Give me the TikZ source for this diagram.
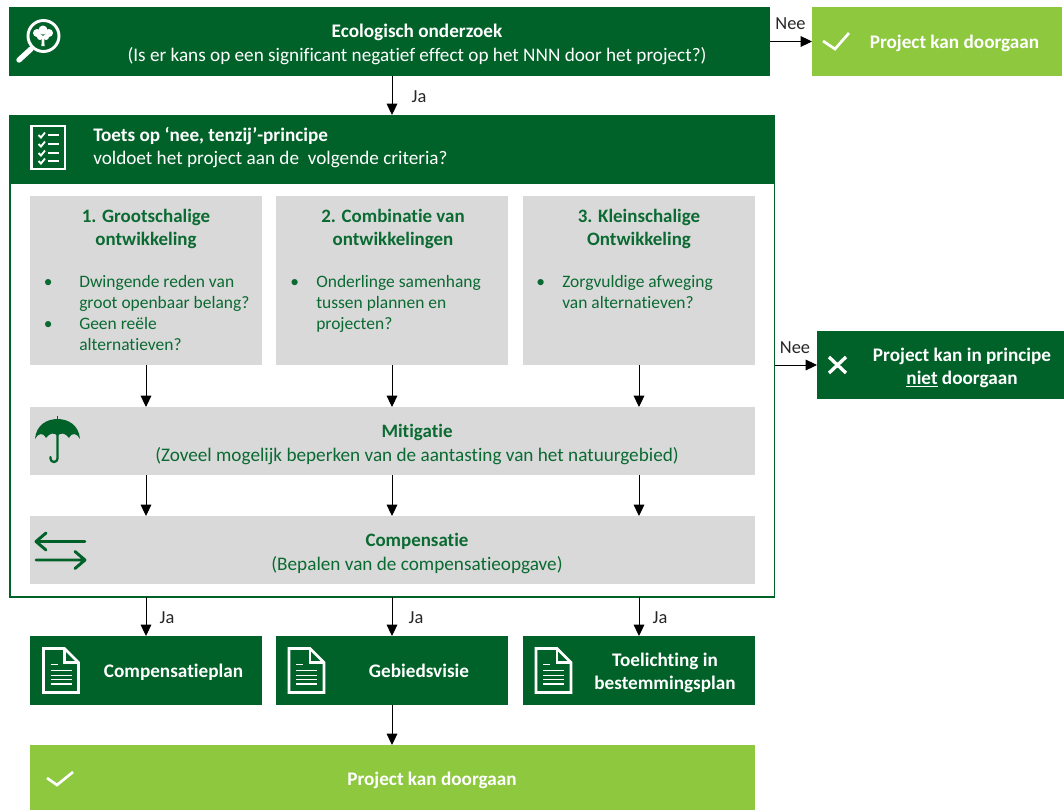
\documentclass[tikz,border=0pt]{standalone}
\usepackage{fontspec}
\setmainfont{Carlito}[Ligatures=CommonOff]
\usetikzlibrary{arrows.meta,fit}
\definecolor{dgreen}{HTML}{006229}
\definecolor{lgreen}{HTML}{8DC83F}
\definecolor{lgrey}{HTML}{D9D9D9}
\definecolor{tgreen}{HTML}{0A6A32}
\tikzset{
  x=0.75pt,y=-0.75pt,
  dbox/.style={fill=dgreen,draw=none,inner sep=0pt,outer sep=0pt},
  lbox/.style={fill=lgreen,draw=none,inner sep=0pt,outer sep=0pt},
  gbox/.style={fill=lgrey,draw=none,inner sep=0pt,outer sep=0pt},
  framebox/.style={draw=dgreen,line width=1.3pt,inner sep=0pt,outer sep=0pt},
  wtxt/.style={text=white,font=\fontsize{14.4}{17.25}\selectfont,inner sep=0pt,anchor=base,yshift=-0.9pt},
  wbold/.style={wtxt,font=\fontsize{14.4}{17.25}\selectfont\bfseries},
  gtxt/.style={text=tgreen,font=\fontsize{14.4}{17.25}\selectfont,inner sep=0pt,anchor=base,yshift=-0.9pt},
  gbold/.style={gtxt,font=\fontsize{14.2}{17.25}\selectfont\bfseries},
  bult/.style={text=tgreen,font=\fontsize{13.1}{15}\selectfont,inner sep=0pt,anchor=base west,yshift=-0.6pt},
  lab/.style={text=black!85,font=\fontsize{13.8}{15}\selectfont,inner sep=0pt,anchor=base,yshift=-0.75pt},
  arr/.style={draw=black,line width=0.75pt,-{Triangle[length=8.5pt,width=8pt]},shorten >=0pt},
  iconw/.style={draw=white,line width=1.9pt},
  iconl/.style={draw=white,line width=1.4pt},
  icong/.style={draw=dgreen,line width=2.2pt,line cap=round,line join=round},
  docicon/.pic={
    \draw[iconw,line join=miter] (0,0) -- (21,0) -- (35,14) -- (35,44) -- (0,44) -- cycle;
    \draw[iconw] (21,0) -- (21,14) -- (35,14);
    \draw[iconl] (7,16) -- (14,16);
    \foreach \yy in {22,27,31,35.5}{\draw[iconl] (7,\yy) -- (28,\yy);}
  },
}
\begin{document}
\begin{tikzpicture}
\useasboundingbox (0,0) rectangle (1064,810);

% boxes
\node[framebox,fit={(10,116)(774.5,597)}] (frame) {};
\node[dbox,fit={(9,7)(770,76)}] (eco) {};
\node[lbox,fit={(812,7)(1062,76)}] (ok1) {};
\node[dbox,fit={(9,115)(775,184)}] (toets) {};
\node[gbox,fit={(30,196)(262,365)}] (g1) {};
\node[gbox,fit={(276,196)(508,365)}] (g2) {};
\node[gbox,fit={(523,196)(755,365)}] (g3) {};
\node[gbox,fit={(30,407)(755,475)}] (mit) {};
\node[gbox,fit={(30,516)(755,584)}] (comp) {};
\node[dbox,fit={(817,331)(1064,399)}] (nee) {};
\node[dbox,fit={(30,636)(262,705)}] (d1) {};
\node[dbox,fit={(276,636)(508,705)}] (d2) {};
\node[dbox,fit={(523,636)(755,705)}] (d3) {};
\node[lbox,fit={(30,745)(755,810)}] (end) {};

% texts
\node[wbold] (t1) at (417,36.5) {Ecologisch onderzoek};
\node[wtxt] (t2) at (417,60) {(Is er kans op een significant negatief effect op het NNN door het project?)};
\node[wbold] (t3) at (954.5,47.5) {Project kan doorgaan};
\node[wbold,anchor=base west] (t4) at (93,140.5) {Toets op ‘nee, tenzij’-principe};
\node[wtxt,anchor=base west] (t5) at (93,163.5) {voldoet het project aan de\ \ volgende criteria?};
\node[gbold] (h1a) at (146,221.5) {1. Grootschalige};
\node[gbold] (h1b) at (146,244.5) {ontwikkeling};
\node[gbold] (h2a) at (393,221.5) {2. Combinatie van};
\node[gbold] (h2b) at (393,244.5) {ontwikkelingen};
\node[gbold] (h3a) at (639,221.5) {3. Kleinschalige};
\node[gbold] (h3b) at (639,244.5) {Ontwikkeling};

\node[bult] at (43.5,286.5) {•};
\node[bult] at (79,286.5) {Dwingende reden van};
\node[bult] at (79,307.5) {groot openbaar belang?};
\node[bult] at (43.5,328.5) {•};
\node[bult] at (79,328.5) {Geen reële};
\node[bult] at (79,349.5) {alternatieven?};
\node[bult] at (290,286.5) {•};
\node[bult] at (316,286.5) {Onderlinge samenhang};
\node[bult] at (316,307.5) {tussen plannen en};
\node[bult] at (316,328.5) {projecten?};
\node[bult] at (536,286.5) {•};
\node[bult] at (562,286.5) {Zorgvuldige afweging};
\node[bult] at (562,307.5) {van alternatieven?};

\node[gbold] (m1) at (417,436.5) {Mitigatie};
\node[gtxt] (m2) at (417,460) {(Zoveel mogelijk beperken van de aantasting van het natuurgebied)};
\node[gbold] (c1) at (417,545.5) {Compensatie};
\node[gtxt] (c2) at (417,569) {(Bepalen van de compensatieopgave)};
\node[wbold] (n1) at (962,360.5) {Project kan in principe};
\node[wbold] (n2) at (962,383.5) {\underline{niet} doorgaan};
\node[wbold] (e1) at (173.5,676.5) {Compensatieplan};
\node[wbold] (e2) at (419,676.5) {Gebiedsvisie};
\node[wbold] (e3a) at (665,665.5) {Toelichting in};
\node[wbold] (e3b) at (665,688.5) {bestemmingsplan};
\node[wbold] (e4) at (432,784.5) {Project kan doorgaan};

% connectors
\draw[arr] (eco.south -| g2) -- (toets.north -| g2);
\draw[arr] (eco.east |- ok1) -- (ok1.west);
\draw[arr] (frame.east |- nee) -- (nee.west);
\foreach \g/\d in {g1/d1,g2/d2,g3/d3}{
  \draw[arr] (\g.south) -- (mit.north -| \g);
  \draw[arr] (mit.south -| \g) -- (comp.north -| \g);
  \draw[arr] (frame.south -| \g) -- (\d.north);
}
\draw[arr] (d2.south) -- (end.north -| d2);

% connector labels
\node[lab] (ja0) at (419,101.5) {Ja};
\node[lab] (ne1) at (790.5,28.5) {Nee};
\node[lab] (ne2) at (795,352.5) {Nee};
\node[lab] (ja1) at (167,622.5) {Ja};
\node[lab] (ja2) at (416,622.5) {Ja};
\node[lab] (ja3) at (660,622.5) {Ja};

% magnifier icon
\draw[white,line width=2.2pt] (43.5,36) circle (15.5);
\draw[white,line width=4pt,line cap=round] (31,49) -- (19,60);
\fill[white] (43,30) circle (4.5) (37,33) circle (4) (49,33) circle (4) (40,37) circle (3) (46,37) circle (3);
\fill[white] (42,36) -- (44,36) -- (44.6,46) -- (41.4,46) -- cycle;

% checklist icon
\draw[iconw,line width=1.9pt] (31.5,126) rectangle (65,169);
\foreach \yy in {135,144,153,161}{
  \draw[white,line width=1.4pt] (38.5,\yy) -- (41,\yy+2.5) -- (45,\yy-2.5);
  \draw[white,line width=1.4pt] (48,\yy) -- (59,\yy);
}

% umbrella icon
\fill[dgreen] (35,439) .. controls (36,425) and (47,419) .. (57.5,419)
  .. controls (68,419) and (79,425) .. (80,439)
  .. controls (77,433) and (72,432) .. (69,438)
  .. controls (66,433) and (60,432) .. (57.5,436)
  .. controls (55,432) and (49,433) .. (46,438)
  .. controls (43,432) and (38,433) .. (35,439) -- cycle;
\draw[dgreen,line width=0.9pt] (57.5,416) -- (57.5,419);
\draw[dgreen,line width=1.7pt,line cap=round] (57.5,430) -- (57.5,458.5) arc[start angle=0,end angle=180,radius=3.5] -- (50.5,457);

% exchange arrows icon
\draw[icong] (85,541.5) -- (36,541.5) (46,533) -- (36,541.5) -- (46,550);
\draw[icong] (36,560) -- (85,560) (75,551.5) -- (85,560) -- (75,568.5);

% check and cross icons
\draw[white,line width=2pt] (823,41) -- (835,49) -- (849,33);
\draw[white,line width=2pt] (47,778) -- (57,785) -- (73,772);
\draw[white,line width=2.5pt] (829,357) -- (846,373) (846,357) -- (829,373);

% document icons
\pic at (43.5,648.5) {docicon};
\pic at (289,648.5) {docicon};
\pic at (536,648.5) {docicon};
\end{tikzpicture}
\end{document}
